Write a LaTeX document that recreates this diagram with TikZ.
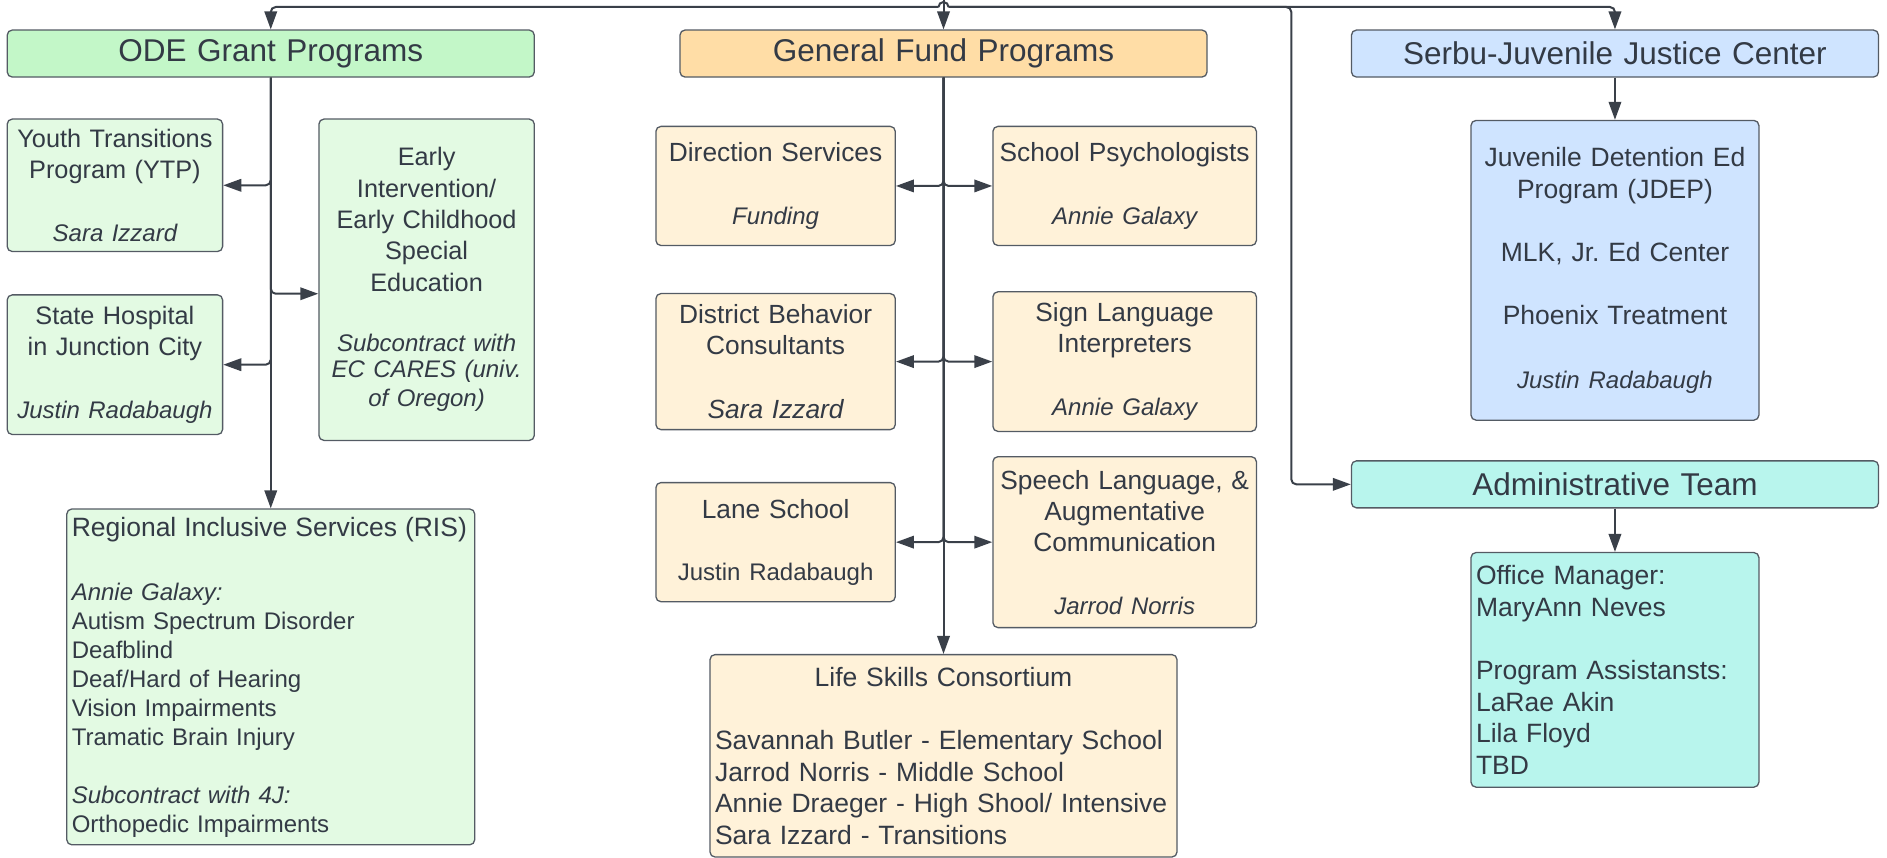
\documentclass[tikz,border=0pt]{standalone}
\usepackage{fontspec}
\setmainfont{Liberation Sans}
\usetikzlibrary{arrows.meta, calc, positioning}

\definecolor{ink}{HTML}{333A45}
\definecolor{wire}{HTML}{3A4049}
\definecolor{boxline}{HTML}{545B64}
\definecolor{odehead}{HTML}{C3F7C8}
\definecolor{odekid}{HTML}{E3FAE3}
\definecolor{fundhead}{HTML}{FFDDA6}
\definecolor{fundkid}{HTML}{FFF2D9}
\definecolor{jjcblue}{HTML}{CFE4FF}
\definecolor{adminteal}{HTML}{B8F5ED}

\newcommand{\hdrfont}{\fontsize{31.5}{38}\selectfont}
\newcommand{\odefont}{\fontsize{25.3}{31.3}\selectfont}
\newcommand{\fundfont}{\fontsize{26.3}{31.3}\selectfont}
\newcommand{\widefont}{\fontsize{26.5}{31.6}\selectfont}
\newcommand{\listfont}{\fontsize{24}{29}\selectfont}
\newcommand{\whofont}{\fontsize{24}{29}\selectfont}

\frenchspacing

\begin{document}
\begin{tikzpicture}[x=1pt, y=-1pt, >={Triangle[length=18pt, width=12.5pt]}, node distance=42pt]
	\tikzstyle{box} = [draw=boxline, line width=1.3pt, rounded corners=5pt, inner xsep=5pt, inner ysep=0pt, text=ink, align=center]
	\tikzstyle{head} = [box, minimum width=527pt, minimum height=47pt, text width=517pt, font=\hdrfont]
	\tikzstyle{link} = [->, draw=wire, line width=2pt, rounded corners=5pt]

	\useasboundingbox (0,0) rectangle (1887,858);

	% headers
	\node[head, fill=odehead] (ode) at (270.75,53.55) {ODE Grant Programs};
	\node[head, fill=fundhead] (fund) at (943.5,53.55) {General Fund Programs};
	\node[head, fill=jjcblue] (jjc) at (1614.95,53.55) {Serbu-Juvenile Justice Center};
	\node[head, fill=adminteal] (admin) at (1614.95,484.35) {Administrative Team};

	% ODE grant programs
	\node[box, fill=odekid, font=\odefont, minimum width=215.4pt, text width=205.4pt, minimum height=132.4pt] (ytp) at (114.9,185.3)
		{Youth Transitions\\Program (YTP)\\[31pt]{\whofont\itshape Sara Izzard}};
	\node[box, fill=odekid, font=\odefont, minimum width=215.4pt, text width=205.4pt, minimum height=139.6pt, below=42.1pt of ytp] (sh)
		{State Hospital\\in Junction City\\[31pt]{\whofont\itshape Justin Radabaugh}};
	\node[box, fill=odekid, font=\odefont, minimum width=215.4pt, text width=205.4pt, minimum height=321.3pt] (ei) at (426.6,279.75)
		{Early\\Intervention/\\Early Childhood\\Special\\Education\\[31pt]{\whofont\itshape Subcontract with\\[-2.3pt]EC CARES (univ.\\[-2.3pt]of Oregon)}};
	\node[box, fill=odekid, font=\listfont, align=left, minimum width=407.9pt, text width=397.9pt, minimum height=335.8pt] (ris) at (270.75,676.9)
		{{\fontsize{26.5}{32}\selectfont Regional Inclusive Services (RIS)}\\[35pt]\textit{Annie Galaxy:}\\Autism Spectrum Disorder\\Deafblind\\Deaf/Hard of Hearing\\Vision Impairments\\Tramatic Brain Injury\\[29pt]\textit{Subcontract with 4J:}\\Orthopedic Impairments};

	% general fund programs
	\node[box, fill=fundkid, font=\fundfont, minimum width=239.4pt, text width=229.4pt, minimum height=119.1pt] (ds) at (775.6,185.95)
		{Direction Services\\[31pt]{\whofont\itshape Funding}};
	\node[box, fill=fundkid, font=\fundfont, minimum width=263.5pt, text width=253.5pt, minimum height=119.1pt, right=96.3pt of ds] (sp)
		{School Psychologists\\[31pt]{\whofont\itshape Annie Galaxy}};
	\node[box, fill=fundkid, font=\fundfont, minimum width=239.4pt, text width=229.4pt, minimum height=136pt] (dbc) at (775.6,361.6)
		{District Behavior\\Consultants\\[33pt]{\itshape Sara Izzard}};
	\node[box, fill=fundkid, font=\fundfont, minimum width=263.5pt, text width=253.5pt, minimum height=139.6pt, right=96.3pt of dbc] (sl)
		{Sign Language\\Interpreters\\[32pt]{\whofont\itshape Annie Galaxy}};
	\node[box, fill=fundkid, font=\fundfont, minimum width=239.4pt, text width=229.4pt, minimum height=119.1pt] (ls) at (775.6,542.15)
		{Lane School\\[31pt]{\whofont Justin Radabaugh}};
	\node[box, fill=fundkid, font=\fundfont, minimum width=263.5pt, text width=253.5pt, minimum height=170.9pt, right=96.3pt of ls] (sla)
		{Speech Language, \&\\Augmentative\\Communication\\[31pt]{\whofont\itshape Jarrod Norris}};
	\node[box, fill=fundkid, font=\widefont, align=left, minimum width=467pt, text width=457pt, minimum height=202.4pt] (lsc) at (943.5,755.8)
		{\makebox[\hsize]{Life Skills Consortium}\\[32pt]Savannah Butler - Elementary School\\Jarrod Norris - Middle School\\Annie Draeger - High Shool/ Intensive\\Sara Izzard - Transitions};

	% juvenile justice and admin
	\node[box, fill=jjcblue, font=\widefont, minimum width=287.9pt, text width=277.9pt, minimum height=299.7pt, below=42.1pt of jjc] (jdep)
		{Juvenile Detention Ed\\Program (JDEP)\\[31.6pt]MLK, Jr.\ Ed Center\\[31.6pt]Phoenix Treatment\\[31.6pt]{\whofont\itshape Justin Radabaugh}};
	\node[box, fill=adminteal, font=\widefont, align=left, minimum width=287.9pt, text width=277.9pt, minimum height=234.6pt, below=43.4pt of admin] (staff)
		{Office Manager:\\MaryAnn Neves\\[31.5pt]Program Assistansts:\\LaRae Akin\\Lila Floyd\\TBD};

	% connectors from the top
	\coordinate (src) at (943.5,0);
	\coordinate (hopL) at (938.5,7);
	\coordinate (hopR) at (948.5,7);
	\coordinate (split) at (1291.3,7);
	\draw[link] (src) -- (fund.north);
	\draw[link] (hopL) -| (ode.north);
	\draw[link] (hopR) -| (jjc.north);
	\draw[link] (hopR) -- (split) |- (admin.west);
	\draw[draw=wire, line width=2pt] (hopL) arc[start angle=180, end angle=0, radius=5pt];

	% ODE branches
	\draw[link] (ode.south) -- (ris.north);
	\draw[link] (ode.south) |- (ytp.east);
	\draw[link] (ode.south) |- (sh.east);
	\draw[link] (ode.south) |- ($(ei.west)+(0,14)$);

	% general fund branches
	\foreach \kid/\side in {ds/east, sp/west, dbc/east, sl/west, ls/east, sla/west}
		\draw[link] (fund.south) |- (\kid.\side);
	\draw[link] (fund.south) -- (lsc.north);

	\draw[link] (jjc.south) -- (jdep.north);
	\draw[link] (admin.south) -- (staff.north);
\end{tikzpicture}
\end{document}
